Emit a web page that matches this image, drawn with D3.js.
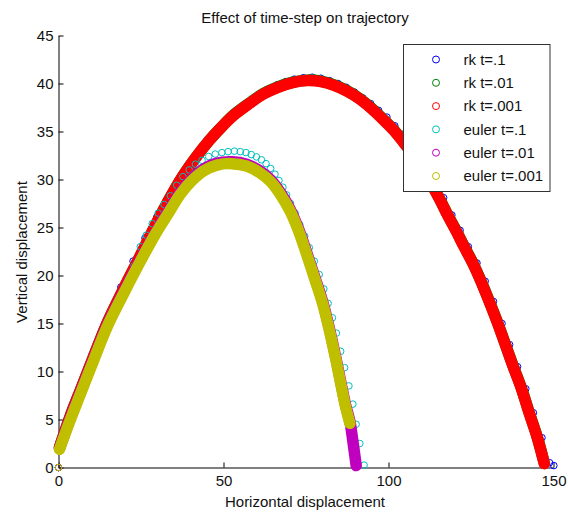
<!DOCTYPE html>
<html>
<head>
<meta charset="utf-8">
<script src="https://cdn.jsdelivr.net/npm/d3@7"></script>
<style>
  body { margin: 0; background: #fff; }
  text { font-family: "Liberation Sans", Arial, sans-serif; fill: #111; }
</style>
</head>
<body>
<div id="chart"></div>
<script>
// values: [horizontal, vertical]
var rkT1 = [[0,0],[3.8,5.7],[7.6,9.3],[11.4,12.7],[15.2,15.8],[18.9,18.8],[22.6,21.5],[26.2,23.9],[29.8,26.1],[33.3,28.1],
  [36.8,30.0],[40.2,31.7],[43.6,33.2],[47.0,34.6],[50.3,35.8],[53.6,36.9],[56.8,37.9],[60.0,38.7],[63.1,39.35],[66.2,39.85],
  [68.9,40.2],[71.5,40.45],[74.2,40.6],[76.9,40.65],[79.5,40.55],[82.1,40.3],[84.7,40.0],[87.2,39.6],[89.7,39.1],[92.2,38.5],
  [94.6,37.9],[97.0,37.2],[99.5,36.5],[101.9,35.6],[104.2,34.7],[106.6,33.6],[109.0,32.4],[111.5,31.1],[114.1,29.6],[116.7,28.1],
  [119.2,26.3],[121.7,24.7],[124.2,23.0],[126.8,21.3],[129.3,19.4],[131.8,17.3],[134.4,15.0],[136.7,12.8],[139.1,10.5],[141.6,8.2],
  [143.9,5.7],[146.5,3.1],[148.8,0.5],[150.1,0.2]];
var rkT01 = [[0,0],[0.3,2.1],[3.5,5.3],[6.8,8.2],[10.8,11.7],[14.8,15.1],[20,18.8],[25,22.2],[29,25.0],[33,27.6],
  [37,30.0],[41.4,32.2],[45.5,34.0],[49.5,35.5],[53.5,36.85],[57.8,37.95],[62.1,38.95],[66.5,39.65],[71,40.15],[75.3,40.35],
  [79.5,40.25],[83.5,39.85],[87.4,39.25],[91.2,38.45],[94.8,37.45],[98.2,36.35],[101.4,35.25],[104.5,33.95],[107.4,32.65],[110.2,31.25],
  [112.9,29.65],[115.4,28.05],[117.9,26.35],[120.4,24.75],[122.9,23.05],[125.5,21.35],[128,19.45],[130.5,17.35],[133.1,15.05],[135.4,12.85],
  [137.8,10.55],[140.3,8.25],[142.6,5.75],[145.1,3.15],[147.2,0.45]];
var rkT001 = [[0,0],[0.3,2.1],[3.5,5.3],[6.8,8.2],[10.8,11.7],[14.8,15.1],[20,18.8],[25,22.2],[29,25.0],[33,27.6],
  [37,30.0],[41.4,32.2],[45.5,34.0],[49.5,35.5],[53.5,36.8],[57.8,37.9],[62.1,38.9],[66.5,39.6],[71,40.1],[75.3,40.3],
  [79.5,40.2],[83.5,39.8],[87.4,39.2],[91.2,38.4],[94.8,37.4],[98.2,36.3],[101.4,35.2],[104.5,33.9],[107.4,32.6],[110.2,31.2],
  [112.9,29.6],[115.4,28.0],[117.9,26.3],[120.4,24.7],[122.9,23.0],[125.5,21.3],[128,19.4],[130.5,17.3],[133.1,15.0],[135.4,12.8],
  [137.8,10.5],[140.3,8.2],[142.6,5.7],[145.1,3.1],[147.2,0.4]];
var eulerT1 = [[0,0],[2.2,4.0],[4.4,6.0],[6.6,7.9],[8.8,9.9],[11.0,11.8],[13.1,13.6],[15.1,15.3],[17.1,16.7],[19.1,18.2],
  [21.0,19.6],[22.9,21.0],[24.8,23.0],[26.6,24.2],[28.4,25.4],[30.2,26.5],[32.0,27.4],[33.9,28.3],[35.8,29.4],[37.7,30.3],
  [39.6,31.0],[41.5,31.6],[43.5,32.0],[45.5,32.4],[47.5,32.65],[49.5,32.8],[51.4,32.9],[53.3,32.95],[55.1,32.9],[56.8,32.8],
  [58.4,32.6],[60.0,32.35],[61.5,32.05],[62.9,31.65],[64.3,31.15],[65.6,30.55],[66.8,29.9],[68.0,29.2],[69.1,28.4],[70.3,27.5],
  [71.7,26.5],[73.1,25.3],[74.6,24.1],[76.0,22.9],[77.5,21.5],[79.0,20.1],[80.4,18.6],[81.7,17.1],[83.0,15.6],[84.2,14.0],
  [85.5,12.1],[86.7,10.4],[88.0,8.5],[89.2,6.6],[90.2,4.5],[91.3,2.5],[92.6,0.25]];
var eulerT01 = [[0,0],[0.3,2.0],[3.5,5.05],[6.8,7.95],[10.8,11.45],[14.8,14.85],[20,18.45],[25,21.75],[29.5,24.55],[33.5,26.8],
  [37,28.7],[40.5,30.1],[44,31.1],[48,31.7],[52.5,31.85],[57,31.6],[61,30.9],[64.5,29.9],[67.5,28.5],[70.2,26.9],
  [72.8,24.8],[75.3,22.3],[77.7,19.8],[80.1,17.2],[82.2,14.3],[84.0,11.5],[85.6,8.8],[87.0,6.5],[88.3,4.8],[89.1,3.0],
  [89.7,1.5],[90.2,0.2]];
var eulerT001 = [[0,0],[0.3,1.9],[3.5,4.9],[6.8,7.8],[10.8,11.3],[14.8,14.7],[20,18.3],[25,21.6],[29.5,24.4],[33.5,26.6],
  [37,28.5],[40.5,29.9],[44,30.9],[48,31.5],[52.5,31.65],[57,31.4],[61,30.7],[64.5,29.7],[67.5,28.3],[70.2,26.7],
  [72.8,24.6],[75.3,22.1],[77.7,19.6],[80.1,17.0],[82.2,14.1],[84.0,11.3],[85.6,8.6],[87.0,6.3],[88.3,4.6]];

var seriesNames = ['rk t=.1', 'rk t=.01', 'rk t=.001', 'euler t=.1', 'euler t=.01', 'euler t=.001'];
var seriesColors = ['#0000ff', '#008000', '#ff0000', '#00bfbf', '#bf00bf', '#bfbf00'];
var seriesData = [rkT1, rkT01, rkT001, eulerT1, eulerT01, eulerT001];
var seriesDense = [false, true, true, false, true, true];

var xTicks = [0, 50, 100, 150],
    yTicks = [0, 5, 10, 15, 20, 25, 30, 35, 40, 45];

var width = 568, height = 513,
    marginLeft = 58.5, marginTop = 35.5, plotW = 495, plotH = 432;

var svg = d3.select('#chart').append('svg')
    .attr('width', width)
    .attr('height', height);

var x = d3.scaleLinear().domain([0, 150]).range([0, plotW]);
var y = d3.scaleLinear().domain([0, 45]).range([plotH, 0]);

var g = svg.append('g').attr('transform', 'translate(' + marginLeft + ',' + marginTop + ')');

// axes, ticks pointing inward
var xAxis = g.append('g')
    .attr('transform', 'translate(0,' + plotH + ')')
    .call(d3.axisBottom(x).tickValues(xTicks).tickSizeInner(-5).tickSizeOuter(0).tickPadding(8));
var yAxis = g.append('g')
    .call(d3.axisLeft(y).tickValues(yTicks).tickSizeInner(-5).tickSizeOuter(0).tickPadding(5));

[xAxis, yAxis].forEach(function(a) {
    a.selectAll('path, line').attr('stroke', '#000');
    a.selectAll('text').style('font-size', '15px').attr('fill', '#111')
        .style('font-family', '"Liberation Sans", Arial, sans-serif');
});

var line = d3.line()
    .x(function(d) { return x(d[0]); })
    .y(function(d) { return y(d[1]); })
    .curve(d3.curveCatmullRom);

seriesData.forEach(function(pts, i) {
    var s = g.append('g');
    if (seriesDense[i]) {
        // many tiny steps: markers merge into a solid band
        s.append('path')
            .attr('d', line(pts.slice(1)))
            .attr('fill', 'none')
            .attr('stroke', seriesColors[i])
            .attr('stroke-width', 11.5)
            .attr('stroke-linecap', 'round')
            .attr('stroke-linejoin', 'round');
        pts = pts.slice(0, 1);
    }
    s.selectAll('circle')
        .data(pts)
        .enter()
        .append('circle')
        .attr('cx', function(d) { return x(d[0]); })
        .attr('cy', function(d) { return y(d[1]); })
        .attr('r', 3.3)
        .attr('fill', 'none')
        .attr('stroke', seriesColors[i])
        .attr('stroke-width', 1);
});

// titles
svg.append('text')
    .attr('x', 305).attr('y', 22.5)
    .attr('text-anchor', 'middle')
    .style('font-size', '15px')
    .text('Effect of time-step on trajectory');
svg.append('text')
    .attr('x', 305).attr('y', 507)
    .attr('text-anchor', 'middle')
    .style('font-size', '15px')
    .text('Horizontal displacement');
svg.append('text')
    .attr('transform', 'translate(26.5,252) rotate(-90)')
    .attr('text-anchor', 'middle')
    .style('font-size', '15px')
    .text('Vertical displacement');

// legend
var legend = svg.append('g').attr('transform', 'translate(403.5,44.5)');
legend.append('rect')
    .attr('width', 146.5).attr('height', 147)
    .attr('fill', '#fff')
    .attr('stroke', '#333');
var item = legend.selectAll('g.item')
    .data(seriesNames)
    .enter()
    .append('g')
    .attr('class', 'item')
    .attr('transform', function(d, i) { return 'translate(0,' + (15 + i * 23.3) + ')'; });
item.append('circle')
    .attr('cx', 32.5).attr('cy', 0).attr('r', 3.5)
    .attr('fill', 'none')
    .attr('stroke', function(d, i) { return seriesColors[i]; });
item.append('text')
    .attr('x', 60).attr('y', 5.3)
    .style('font-size', '15px')
    .text(function(d) { return d; });
</script>
</body>
</html>
